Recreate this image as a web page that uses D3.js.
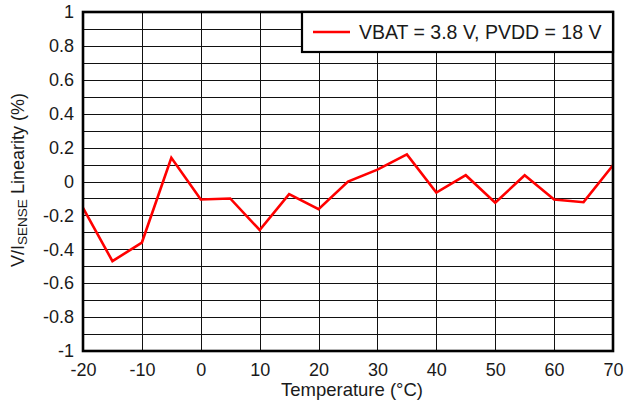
<!DOCTYPE html>
<meta charset="utf-8">
<style>
body { margin: 0; background: #fff; }
text { font-family: "Liberation Sans", Arial, sans-serif; fill: #1a1a1a; }
.grid line { stroke: #111; stroke-width: 1px; shape-rendering: crispEdges; }
</style>
<svg width="624" height="404"></svg>
<script src="https://cdn.jsdelivr.net/npm/d3@7"></script>
<script>
var width = 624, height = 404;
var margin = {left: 83, right: 11, top: 12, bottom: 53};

// temperature (°C) and linearity (%)
var temps = [-20, -15, -10, -5, 0, 5, 10, 15, 20, 25, 30, 35, 40, 45, 50, 55, 60, 65, 70];
var linearity = [-0.155, -0.47, -0.36, 0.14, -0.106, -0.10, -0.286, -0.075, -0.163, 0.0,
                 0.07, 0.16, -0.065, 0.037, -0.125, 0.037, -0.106, -0.122, 0.096];
var xTicks = [-20, -10, 0, 10, 20, 30, 40, 50, 60, 70];
var yTicks = [-1, -0.8, -0.6, -0.4, -0.2, 0, 0.2, 0.4, 0.6, 0.8, 1];
var yGrid = d3.range(-10, 11).map(function(d) { return d / 10; });
var legendLabel = "VBAT = 3.8 V, PVDD = 18 V";

var svg = d3.select("svg");

var x = d3.scaleLinear().domain([-20, 70]).range([margin.left, width - margin.right]);
var y = d3.scaleLinear().domain([-1, 1]).range([height - margin.bottom, margin.top]);

// gridlines
var grid = svg.append("g").attr("class", "grid");
grid.selectAll(".h").data(yGrid).enter().append("line")
    .attr("x1", x(-20)).attr("x2", x(70))
    .attr("y1", function(d) { return Math.round(y(d)) + 0.5; })
    .attr("y2", function(d) { return Math.round(y(d)) + 0.5; });
grid.selectAll(".v").data(xTicks).enter().append("line")
    .attr("y1", y(1)).attr("y2", y(-1))
    .attr("x1", function(d) { return Math.round(x(d)) + 0.5; })
    .attr("x2", function(d) { return Math.round(x(d)) + 0.5; });

// plain hyphen for negatives, like the original
function fmt(d) { return String(+(+d).toFixed(1)); }

var xAxis = svg.append("g")
    .attr("transform", "translate(0," + y(-1) + ")")
    .call(d3.axisBottom(x).tickValues(xTicks).tickSize(0).tickPadding(12).tickFormat(fmt));
var yAxis = svg.append("g")
    .attr("transform", "translate(" + x(-20) + ",0)")
    .call(d3.axisLeft(y).tickValues(yTicks).tickSize(0).tickPadding(9).tickFormat(fmt));
[xAxis, yAxis].forEach(function(a) {
  a.select(".domain").remove();
  a.selectAll("text").style("font-size", "18px").attr("fill", "#1a1a1a");
});

// data line
var line = d3.line()
    .x(function(d, i) { return x(temps[i]); })
    .y(function(d) { return y(d); });
svg.append("path")
    .datum(linearity)
    .attr("fill", "none")
    .attr("stroke", "#ff0000")
    .attr("stroke-width", 2.6)
    .attr("d", line);

// frame
svg.append("rect")
    .attr("x", x(-20)).attr("y", y(1))
    .attr("width", x(70) - x(-20)).attr("height", y(-1) - y(1))
    .attr("fill", "none").attr("stroke", "#000").attr("stroke-width", 2.6);

// legend
var lg = svg.append("g");
lg.append("rect")
    .attr("x", 302).attr("y", y(1))
    .attr("width", x(70) - 302).attr("height", 40)
    .attr("fill", "#fff").attr("stroke", "#000").attr("stroke-width", 2.2);
lg.append("line")
    .attr("x1", 313).attr("x2", 350).attr("y1", 32).attr("y2", 32)
    .attr("stroke", "#ff0000").attr("stroke-width", 2.6);
lg.append("text")
    .attr("x", 359).attr("y", 38.5)
    .style("font-size", "19.5px")
    .text(legendLabel);

// axis titles
svg.append("text")
    .attr("x", (x(-20) + x(70)) / 2 + 4).attr("y", 396)
    .attr("text-anchor", "middle")
    .style("font-size", "18.5px")
    .text("Temperature (°C)");

var yt = svg.append("text")
    .attr("transform", "translate(24," + 180 + ") rotate(-90)")
    .attr("text-anchor", "middle")
    .style("font-size", "18px");
yt.append("tspan").text("V/I");
yt.append("tspan").attr("dy", 3).style("font-size", "13.5px").text("SENSE");
yt.append("tspan").attr("dy", -3).text(" Linearity (%)");
</script>
